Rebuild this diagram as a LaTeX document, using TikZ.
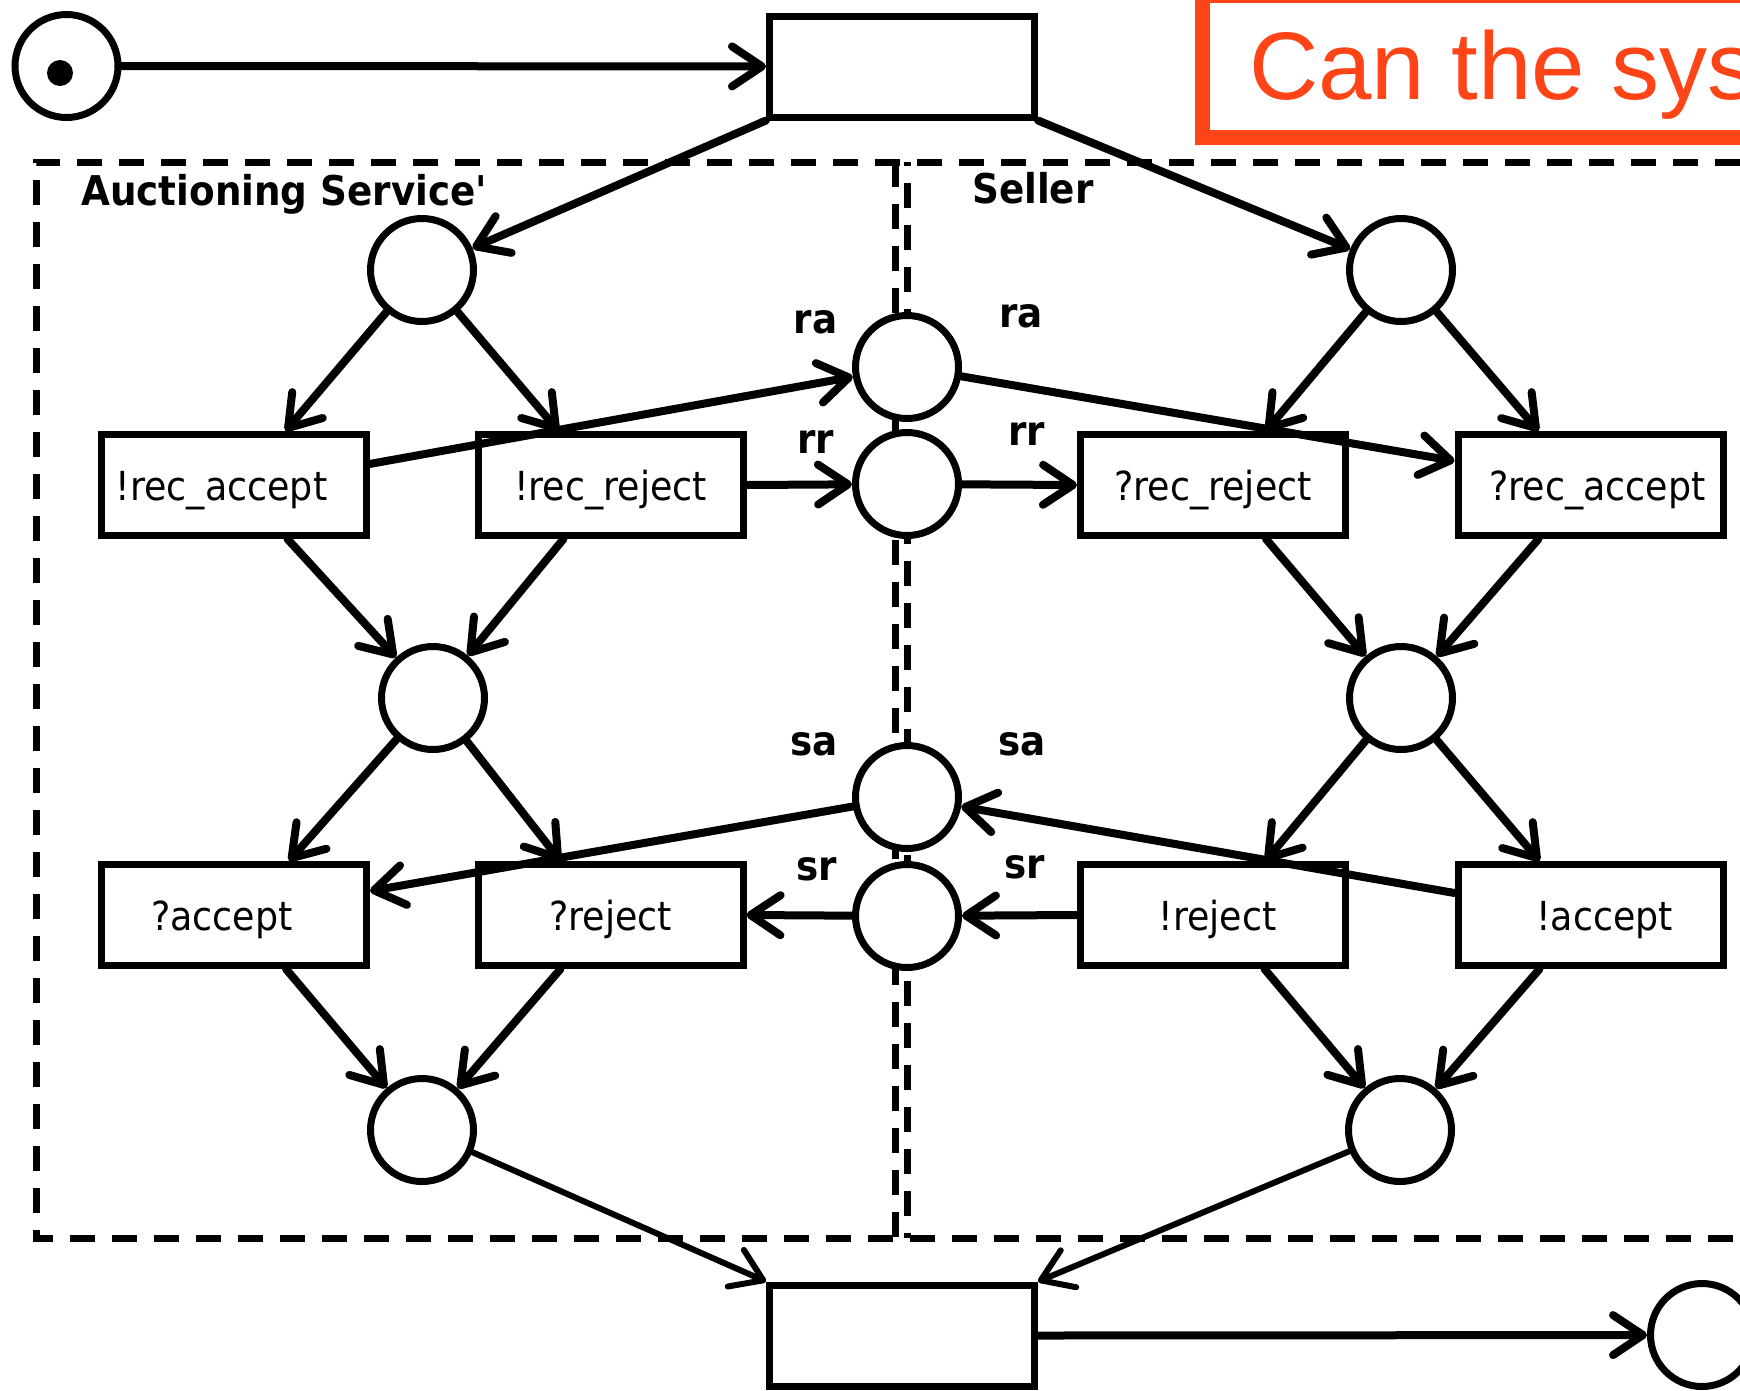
\documentclass[tikz,border=0pt]{standalone}
\usepackage{fontspec}
\usetikzlibrary{arrows.meta}
\newfontfamily\vfont{DejaVu Sans}[FakeStretch=0.91]
\newfontfamily\rfont{Liberation Sans}
\definecolor{alertred}{RGB}{255,69,23}
\begin{document}
\begin{tikzpicture}[x=1pt, y=-1pt,
  place/.style={circle, draw, line width=7pt, fill=white, minimum size=103pt, inner sep=0pt},
  trans/.style={rectangle, draw, line width=7pt, fill=white, minimum width=265pt, minimum height=101pt, inner sep=0pt,
    font=\vfont\fontsize{40}{48}\selectfont, text height=31pt, text depth=0pt},
  arc/.style={line width=8pt, line cap=round, -{Straight Barb[length=30pt, width=40pt, round]}},
  thinarc/.style={line width=6pt, line cap=round, -{Straight Barb[length=30pt, width=40pt, round]}},
  lbl/.style={font=\vfont\bfseries\fontsize{41}{49}\selectfont, inner sep=0pt, anchor=base},
  frame/.style={line width=7pt, dash pattern=on 25pt off 17pt}]
\useasboundingbox (0,0) rectangle (1740,1390);
% dashed component frames
\draw[frame] (1740,162) -- (36,162) -- (36,1238) -- (1740,1238);
\draw[frame] (895,162) -- (895,1238);
\draw[frame, dash phase=21pt] (907,162) -- (907,1238);
% question box
\draw[alertred, line width=15pt] (1760,-5) -| (1202,137) -- (1760,137);
\node[anchor=base west, inner sep=0pt, text=alertred, font=\rfont\fontsize{96}{110}\selectfont] (q) at (1249,99) {Can the sys};
% places
\node[place] (start) at (66.5,66) {};
\node[circle, fill, minimum size=26pt, inner sep=0pt] (tok) at (60,73) {};
\node[place] (p1) at (422,270) {};
\node[place] (s1) at (1401,270) {};
\node[place] (ra) at (907,367) {};
\node[place] (rr) at (907,484) {};
\node[place] (p2) at (433,698) {};
\node[place] (s2) at (1401,698) {};
\node[place] (sa) at (907,797) {};
\node[place] (sr) at (907,916) {};
\node[place] (p3) at (422,1130) {};
\node[place] (s3) at (1400,1130) {};
\node[place] (end) at (1702,1335) {};
% transitions
\node[trans] (top) at (902,66.5) {};
\node[trans] (bot) at (902,1335.5) {};
\node[trans] (recacc) at (233.5,485) {\hspace*{-24pt}!rec\_accept};
\node[trans] (recrej) at (610.5,485) {!rec\_reject};
\node[trans] (qrecrej) at (1213,485) {?rec\_reject};
\node[trans] (qrecacc) at (1590.5,485) {\hspace*{14pt}?rec\_accept};
\node[trans] (qacc) at (234,915) {\hspace*{-24pt}?accept};
\node[trans] (qrej) at (610.5,915) {?reject};
\node[trans] (xrej) at (1212.5,915) {\hspace*{10pt}!reject};
\node[trans] (xacc) at (1590.5,915) {\hspace*{28pt}!accept};
% labels
\node[lbl, anchor=base west] (asl) at (81,205) {Auctioning Service\textquotesingle};
\node[lbl, anchor=base west] (sell) at (972,203) {Seller};
\node[lbl] (ral) at (815.5,333) {ra};
\node[lbl] (rar) at (1021,327) {ra};
\node[lbl] (rrl) at (815.5,453) {rr};
\node[lbl] (rrr) at (1026.5,445) {rr};
\node[lbl] (sal) at (814,755) {sa};
\node[lbl] (sar) at (1022,755) {sa};
\node[lbl] (srl) at (816.5,880) {sr};
\node[lbl] (srr) at (1025,878) {sr};
% arcs
\draw[arc] (start) -- (top);
\draw[arc] (top.south west) -- (p1);
\draw[arc] (top.south east) -- (s1);
\draw[arc] (p1) -- ([xshift=52pt]recacc.north);
\draw[arc] (p1) -- ([xshift=-52pt]recrej.north);
\draw[arc] ([xshift=54pt]recacc.south) -- (p2);
\draw[arc] ([xshift=-47pt]recrej.south) -- (p2);
\draw[arc] ([yshift=21pt]recacc.east) -- (ra);
\draw[arc] (recrej.east) -- (rr);
\draw[arc] (ra) -- ([yshift=24pt]qrecacc.west);
\draw[arc] (rr) -- (qrecrej.west);
\draw[arc] (s1) -- ([xshift=53pt]qrecrej.north);
\draw[arc] (s1) -- ([xshift=-52pt]qrecacc.north);
\draw[arc] ([xshift=53pt]qrecrej.south) -- (s2);
\draw[arc] ([xshift=-52pt]qrecacc.south) -- (s2);
\draw[arc] (p2) -- ([xshift=55pt]qacc.north);
\draw[arc] (p2) -- ([xshift=-50pt]qrej.north);
\draw[arc] (sa) -- ([yshift=24pt]qacc.east);
\draw[arc] (sr) -- (qrej.east);
\draw[arc] ([yshift=22pt]xacc.west) -- (sa);
\draw[arc] (xrej.west) -- (sr);
\draw[arc] (s2) -- ([xshift=53pt]xrej.north);
\draw[arc] (s2) -- ([xshift=-51pt]xacc.north);
\draw[arc] ([xshift=52pt]qacc.south) -- (p3);
\draw[arc] ([xshift=-50pt]qrej.south) -- (p3);
\draw[arc] ([xshift=52pt]xrej.south) -- (s3);
\draw[arc] ([xshift=-51pt]xacc.south) -- (s3);
\draw[thinarc] (p3) -- (bot.north west);
\draw[thinarc] (s3) -- (bot.north east);
\draw[arc] (bot.east) -- (end);
\end{tikzpicture}
\end{document}
